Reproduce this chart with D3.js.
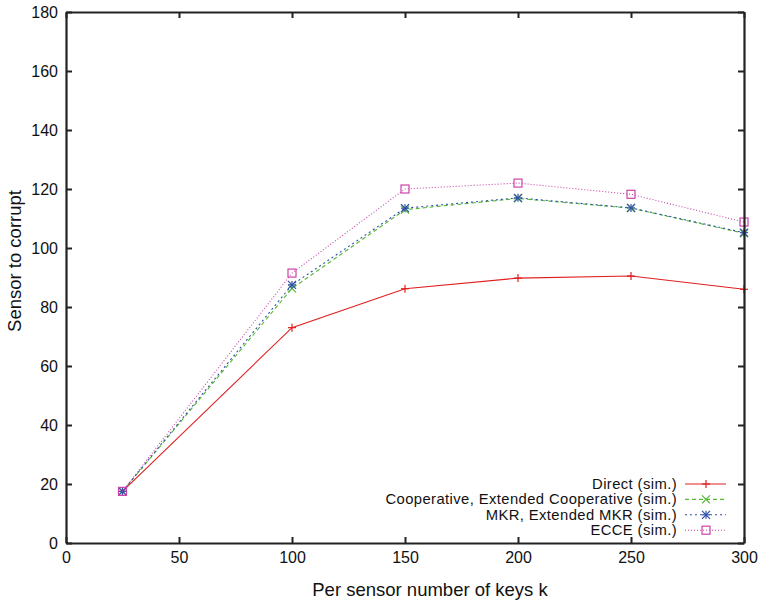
<!DOCTYPE html>
<html><head><meta charset="utf-8">
<script src="https://cdn.jsdelivr.net/npm/d3@7"></script>
<style>body{margin:0;background:#fff}text{font-family:"Liberation Sans",Arial,sans-serif}</style>
</head><body><svg id="c" width="764" height="603"></svg>
<script>
const xValues = [25, 100, 150, 200, 250, 300];
const direct = [17.5, 73, 86.2, 89.8, 90.5, 86];
const cooperative = [17.5, 86.3, 113, 116.8, 113.5, 105];
const mkr = [17.5, 87.5, 113.5, 117, 113.6, 105.2];
const ecce = [17.5, 91.5, 120, 122, 118.2, 108.8];
const seriesNames = ["Direct (sim.)", "Cooperative, Extended Cooperative (sim.)", "MKR, Extended MKR (sim.)", "ECCE (sim.)"];
const xTicks = [0, 50, 100, 150, 200, 250, 300];
const yTicks = [0, 20, 40, 60, 80, 100, 120, 140, 160, 180];

const svg = d3.select("#c");
const L = 66, R = 744, T = 12, B = 543;
const x = d3.scaleLinear().domain([0, 300]).range([L, R]);
const y = d3.scaleLinear().domain([0, 180]).range([B, T]);

const series = [
  {name: seriesNames[0], vals: direct, color: "#e02020", dash: null, mark: "plus"},
  {name: seriesNames[1], vals: cooperative, color: "#55bb33", dash: "4,3", mark: "cross"},
  {name: seriesNames[2], vals: mkr, color: "#3050a8", dash: "2,3", mark: "star"},
  {name: seriesNames[3], vals: ecce, color: "#cc44aa", dash: "1,2", mark: "square"}
];

function drawMark(g, mark, cx, cy, color) {
  const s = 4;
  if (mark === "plus" || mark === "star") {
    g.append("line").attr("x1", cx - s).attr("x2", cx + s).attr("y1", cy).attr("y2", cy).attr("stroke", color).attr("stroke-width", 1.2);
    g.append("line").attr("x1", cx).attr("x2", cx).attr("y1", cy - s).attr("y2", cy + s).attr("stroke", color).attr("stroke-width", 1.2);
  }
  if (mark === "cross" || mark === "star") {
    g.append("line").attr("x1", cx - s).attr("x2", cx + s).attr("y1", cy - s).attr("y2", cy + s).attr("stroke", color).attr("stroke-width", 1.2);
    g.append("line").attr("x1", cx - s).attr("x2", cx + s).attr("y1", cy + s).attr("y2", cy - s).attr("stroke", color).attr("stroke-width", 1.2);
  }
  if (mark === "square") {
    g.append("rect").attr("x", cx - s).attr("y", cy - s).attr("width", 2 * s).attr("height", 2 * s).attr("fill", "none").attr("stroke", color).attr("stroke-width", 1.2);
  }
}

const line = d3.line().x((d, i) => x(xValues[i])).y(d => y(d));
series.forEach(s => {
  svg.append("path").datum(s.vals).attr("d", line).attr("fill", "none").attr("stroke", s.color).attr("stroke-width", 1.1).attr("stroke-dasharray", s.dash);
  const g = svg.append("g");
  s.vals.forEach((v, i) => drawMark(g, s.mark, x(xValues[i]), y(v), s.color));
});

// axes with inward ticks, mirrored
const tl = 6;
const axB = svg.append("g").attr("transform", `translate(0,${B})`).call(d3.axisBottom(x).tickValues(xTicks).tickSizeInner(-tl).tickSizeOuter(0).tickPadding(9));
const axT = svg.append("g").attr("transform", `translate(0,${T})`).call(d3.axisTop(x).tickValues(xTicks).tickSizeInner(-tl).tickSizeOuter(0).tickFormat(""));
const axL = svg.append("g").attr("transform", `translate(${L},0)`).call(d3.axisLeft(y).tickValues(yTicks).tickSizeInner(-tl).tickSizeOuter(0).tickPadding(8));
const axR = svg.append("g").attr("transform", `translate(${R},0)`).call(d3.axisRight(y).tickValues(yTicks).tickSizeInner(-tl).tickSizeOuter(0).tickFormat(""));
[axB, axT, axL, axR].forEach(a => {
  a.select(".domain").attr("stroke", "#222").attr("stroke-width", 2.2);
  a.selectAll(".tick line").attr("stroke", "#222").attr("stroke-width", 2);
  a.selectAll(".tick text").attr("font-size", 16).attr("fill", "#111").attr("font-family", "Liberation Sans, Arial, sans-serif");
});

svg.append("text").attr("x", 430).attr("y", 596).attr("text-anchor", "middle").attr("font-size", 18.5).attr("fill", "#111").text("Per sensor number of keys k");
svg.append("text").attr("transform", `translate(21,261) rotate(-90)`).attr("text-anchor", "middle").attr("font-size", 18.5).attr("fill", "#111").text("Sensor to corrupt");

// legend
const legY0 = 484, legDy = 15.4;
series.forEach((s, i) => {
  const yy = legY0 + i * legDy;
  svg.append("text").attr("x", 677).attr("y", yy + 5).attr("text-anchor", "end").attr("font-size", 14.8).attr("letter-spacing", 0.4).attr("fill", "#111").text(s.name);
  svg.append("line").attr("x1", 685).attr("x2", 726).attr("y1", yy).attr("y2", yy).attr("stroke", s.color).attr("stroke-width", 1.1).attr("stroke-dasharray", s.dash);
  drawMark(svg, s.mark, 706, yy, s.color);
});
</script></body></html>
